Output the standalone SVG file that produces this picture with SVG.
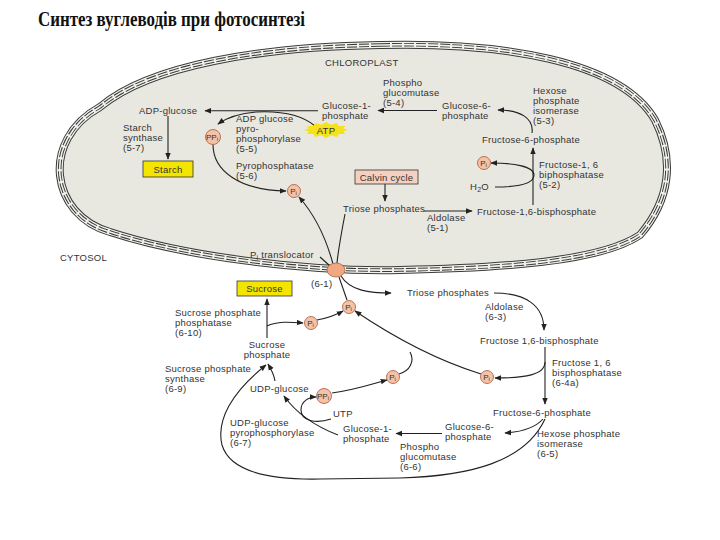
<svg xmlns="http://www.w3.org/2000/svg" width="720" height="540" viewBox="0 0 720 540">
<defs>
<style>
.t{font-family:"Liberation Sans",Arial,Helvetica,sans-serif;font-size:9.5px;letter-spacing:0.25px;fill:#333}
.ti{font-family:"Liberation Serif","Times New Roman",serif;font-size:21px;font-weight:bold;fill:#111}
.c{fill:none;stroke:#222;stroke-width:1.1}
.ar{marker-end:url(#ah)}
.pi circle{fill:#f4c2a6;stroke:#a8583a;stroke-width:0.8}
.pi text{font-family:"Liberation Sans",Arial,sans-serif;font-size:8px;fill:#333;text-anchor:middle}
.box{stroke:#333;stroke-width:0.8}
.yel{fill:#f3e500}
.mid{text-anchor:middle}
</style>
<marker id="ah" viewBox="0 0 10 10" refX="9" refY="5" markerWidth="7" markerHeight="7" markerUnits="userSpaceOnUse" orient="auto"><path d="M0,1 L10,5 L0,9 Z" fill="#222"/></marker>
<path id="memb" d="M380,45 C500,42 620,60 655,120 C675,160 670,200 640,235 C600,262 500,268 400,270 C300,272 180,255 110,232 C50,215 40,140 100,107 C150,65 260,47 380,45 Z"/>
</defs>
<rect width="720" height="540" fill="#fff"/>
<text class="ti" x="38" y="26" textLength="267" lengthAdjust="spacingAndGlyphs">Синтез вуглеводів при фотосинтезі</text>

<g id="chloroplast">
<use href="#memb" fill="#e8e8e0"/>
<use href="#memb" fill="none" stroke="#3a3a3a" stroke-width="8"/>
<use href="#memb" fill="none" stroke="#f2f2ec" stroke-width="6"/>
<use href="#memb" fill="none" stroke="#3a3a3a" stroke-width="3.6" stroke-dasharray="10 2"/>
<use href="#memb" fill="none" stroke="#f2f2ec" stroke-width="1.6"/>
<text class="t" x="325" y="66">CHLOROPLAST</text>
<text class="t" x="60" y="261">CYTOSOL</text>
</g>

<g id="connectors">
<path class="c ar" d="M437,110.5 L378,110.5"/>
<path class="c ar" d="M318,110.7 L205,110.7"/>
<path class="c ar" d="M168,116 L168,159"/>
<path class="c ar" d="M315,126 Q296,110 256,112 Q232,114 218,124"/>
<path class="c ar" d="M213,144.5 C213,170 238,190 286,191"/>
<path class="c ar" d="M385,184 L385,201"/>
<path class="c ar" d="M424,211 L472,211"/>
<path class="c ar" d="M533,205 L533,148"/>
<path class="c ar" d="M495,187 C520,187 534,183 534,175 C534,166 512,163 491,163"/>
<path class="c ar" d="M532,133 C534,118 520,110 498,110"/>
<path class="c ar" d="M333,264 C326,238 314,214 299,197"/>
<path class="c" d="M345,214 C341,235 338,252 337,263"/>
<path class="c" stroke-width="0.8" d="M320,257 L330,266"/>
<path class="c ar" d="M341,276 C350,291 370,293 391,293"/>
<path class="c" d="M347,300 L339,277"/>
<path class="c ar" d="M267,338 L267,299"/>
<path class="c ar" d="M267,326 C277,321 290,322 303,323"/>
<path class="c ar" d="M317,320 C328,318 336,315 343,311"/>
<path class="c ar" d="M481,374 Q420,355 355,311"/>
<path class="c" d="M399,374 C410,371 415,361 410,352"/>
<path class="c ar" d="M545,347 L545,404"/>
<path class="c ar" d="M545,362 C545,375 525,378 495,378"/>
<path class="c ar" d="M494,293 C525,293 544,305 544,330"/>
<path class="c ar" d="M543,419 C535,428 520,432 505,433"/>
<path class="c ar" d="M442,433.5 L396,433.5"/>
<path class="c ar" d="M545,419 C525,462 470,476 400,478 L320,479 C270,480 230,472 222,445 C216,420 232,392 266,365"/>
<path class="c ar" d="M275,381 C274,374 271,369 268,364"/>
<path class="c ar" d="M338,435 C312,425 294,410 284,396"/>
<path class="c ar" d="M331,419 C316,424 301,421 301,410 C301,401 309,397 316,397"/>
<path class="c ar" d="M332,393 C355,390 372,384 387,380"/>
</g>

<g id="g6p-chl"><text class="t" x="442" y="108.5">Glucose-6-</text><text class="t" x="442" y="118.5">phosphate</text></g>
<g id="pgm-chl"><text class="t" x="383" y="86">Phospho</text><text class="t" x="383" y="96">glucomutase</text><text class="t" x="383" y="106">(5-4)</text></g>
<g id="g1p-chl"><text class="t" x="322" y="109">Glucose-1-</text><text class="t" x="322" y="119">phosphate</text></g>
<g id="hpi-chl"><text class="t" x="533" y="94">Hexose</text><text class="t" x="533" y="104">phosphate</text><text class="t" x="533" y="114">isomerase</text><text class="t" x="533" y="124">(5-3)</text></g>
<g id="f6p-chl"><text class="t" x="482" y="143">Fructose-6-phosphate</text></g>
<g id="fbpase-chl"><text class="t" x="539" y="168">Fructose-1, 6</text><text class="t" x="539" y="178">biphosphatase</text><text class="t" x="539" y="188">(5-2)</text></g>
<g id="h2o-chl"><text class="t" x="470" y="190">H<tspan font-size="7" dy="2">2</tspan><tspan dy="-2">O</tspan></text></g>
<g id="fbp-chl"><text class="t" x="477" y="215">Fructose-1,6-bisphosphate</text></g>
<g id="triose-chl"><text class="t" x="343" y="212">Triose phosphates</text></g>
<g id="aldolase-chl"><text class="t" x="427" y="221">Aldolase</text><text class="t" x="427" y="231">(5-1)</text></g>
<g id="calvin"><rect class="box" x="355" y="170" width="63" height="14" fill="#f5cfc0"/><text class="t mid" x="386.5" y="180.5">Calvin cycle</text></g>
<g id="adpg"><text class="t" x="139" y="114">ADP-glucose</text></g>
<g id="starch-synthase"><text class="t" x="123" y="131">Starch</text><text class="t" x="123" y="141">synthase</text><text class="t" x="123" y="151">(5-7)</text></g>
<g id="starch"><rect class="box yel" x="143" y="161" width="50" height="16"/><text class="t mid" x="168" y="172.5">Starch</text></g>
<g id="adpg-ppase"><text class="t" x="236" y="122">ADP glucose</text><text class="t" x="236" y="132">pyro-</text><text class="t" x="236" y="142">phosphorylase</text><text class="t" x="236" y="152">(5-5)</text></g>
<g id="pyrophosphatase"><text class="t" x="236" y="169">Pyrophosphatase</text><text class="t" x="236" y="179">(5-6)</text></g>
<g id="atp"><polygon fill="#f6e21c" points="348,130 343.4,131.4 345.1,134 338.7,133.9 337,136.9 330.7,135.3 326,138 321.3,135.3 315,136.9 313.3,133.9 306.9,134 308.6,131.4 304,130 308.6,128.6 306.9,126 313.3,126.1 315,123.1 321.3,124.7 326,122 330.7,124.7 337,123.1 338.7,126.1 345.1,126 343.4,128.6"/><text class="t mid" x="326" y="133.5" font-size="9">ATP</text></g>
<g id="ppi-chl" class="pi"><circle cx="213" cy="137" r="7.5"/><text x="212" y="139.5">PP<tspan font-size="6" dy="1.5">i</tspan></text></g>
<g id="pi-chl-1" class="pi"><circle cx="294" cy="191" r="6.5"/><text x="293.5" y="193.5">P<tspan font-size="6" dy="1.5">i</tspan></text></g>
<g id="pi-chl-2" class="pi"><circle cx="484" cy="163" r="6.5"/><text x="483.5" y="165.5">P<tspan font-size="6" dy="1.5">i</tspan></text></g>
<g id="translocator"><ellipse cx="336" cy="270" rx="9" ry="7" fill="#f0a882" stroke="#b06038" stroke-width="0.8"/><text class="t" x="250" y="258">P<tspan font-size="7" dy="2">i</tspan><tspan dy="-2"> translocator</tspan></text><text class="t" x="311" y="287">(6-1)</text></g>

<g id="sucrose"><rect class="box yel" x="237" y="281" width="55" height="15"/><text class="t mid" x="264.5" y="292">Sucrose</text></g>
<g id="triose-cyt"><text class="t" x="407" y="296">Triose phosphates</text></g>
<g id="aldolase-cyt"><text class="t" x="485" y="310">Aldolase</text><text class="t" x="485" y="320">(6-3)</text></g>
<g id="fbp-cyt"><text class="t" x="480" y="343.5">Fructose 1,6-bisphosphate</text></g>
<g id="fbpase-cyt"><text class="t" x="552" y="366">Fructose 1, 6</text><text class="t" x="552" y="376">bisphosphatase</text><text class="t" x="552" y="386">(6-4a)</text></g>
<g id="spp"><text class="t" x="175" y="316">Sucrose phosphate</text><text class="t" x="175" y="326">phosphatase</text><text class="t" x="175" y="336">(6-10)</text></g>
<g id="sucrose-p"><text class="t mid" x="267" y="348">Sucrose</text><text class="t mid" x="267" y="358">phosphate</text></g>
<g id="sps"><text class="t" x="165" y="372">Sucrose phosphate</text><text class="t" x="165" y="382">synthase</text><text class="t" x="165" y="392">(6-9)</text></g>
<g id="udpg"><text class="t" x="250" y="392">UDP-glucose</text></g>
<g id="utp"><text class="t" x="333" y="417">UTP</text></g>
<g id="udpg-ppase"><text class="t" x="230" y="426">UDP-glucose</text><text class="t" x="230" y="436">pyrophosphorylase</text><text class="t" x="230" y="446">(6-7)</text></g>
<g id="g1p-cyt"><text class="t" x="343" y="432">Glucose-1-</text><text class="t" x="343" y="442">phosphate</text></g>
<g id="g6p-cyt"><text class="t" x="445" y="430">Glucose-6-</text><text class="t" x="445" y="440">phosphate</text></g>
<g id="pgm-cyt"><text class="t" x="400" y="450">Phospho</text><text class="t" x="400" y="460">glucomutase</text><text class="t" x="400" y="470">(6-6)</text></g>
<g id="f6p-cyt"><text class="t" x="493" y="416">Fructose-6-phosphate</text></g>
<g id="hpi-cyt"><text class="t" x="537" y="437">Hexose phosphate</text><text class="t" x="537" y="447">isomerase</text><text class="t" x="537" y="457">(6-5)</text></g>
<g id="pi-cyt-1" class="pi"><circle cx="349" cy="307" r="6.5"/><text x="348.5" y="309.5">P<tspan font-size="6" dy="1.5">i</tspan></text></g>
<g id="pi-cyt-2" class="pi"><circle cx="311" cy="323" r="6.5"/><text x="310.5" y="325.5">P<tspan font-size="6" dy="1.5">i</tspan></text></g>
<g id="pi-cyt-3" class="pi"><circle cx="487" cy="377" r="6.5"/><text x="486.5" y="379.5">P<tspan font-size="6" dy="1.5">i</tspan></text></g>
<g id="pi-cyt-4" class="pi"><circle cx="393" cy="377" r="6.5"/><text x="392.5" y="379.5">P<tspan font-size="6" dy="1.5">i</tspan></text></g>
<g id="ppi-cyt" class="pi"><circle cx="324" cy="396" r="7.5"/><text x="323" y="398.5">PP<tspan font-size="6" dy="1.5">i</tspan></text></g>
</svg>
